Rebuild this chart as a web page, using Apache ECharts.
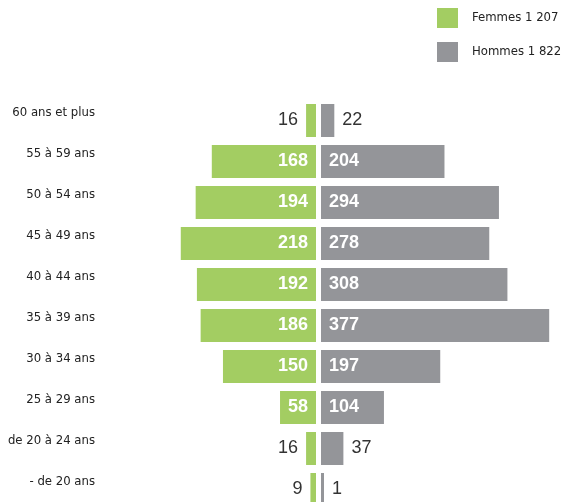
<!DOCTYPE html>
<html><head><meta charset="utf-8">
<script src="https://cdn.jsdelivr.net/npm/echarts@6/dist/echarts.min.js"></script>
<style>html,body{margin:0;padding:0;background:#fff}#c{width:563px;height:502px}</style>
</head><body><div id="c"></div>
<script>
const categories = ['60 ans et plus','55 à 59 ans','50 à 54 ans','45 à 49 ans','40 à 44 ans','35 à 39 ans','30 à 34 ans','25 à 29 ans','de 20 à 24 ans','- de 20 ans'];
const femmes = [16,168,194,218,192,186,150,58,16,9];
const hommes = [22,204,294,278,308,377,197,104,37,1];
const seriesNames = ['Femmes','Hommes'];

const GREEN = '#a3cd62', GRAY = '#949599';
const NARROW = "'DejaVu Sans Condensed','Liberation Sans Narrow',sans-serif";
const SANS = "'Liberation Sans',Arial,Helvetica,sans-serif";
const fmt = n => String(n).replace(/\B(?=(\d{3})+(?!\d))/g, ' ');
const sum = a => a.reduce((s, v) => s + v, 0);
const totals = { Femmes: sum(femmes), Hommes: sum(hommes) };

function items(arr, inside, outside) {
  return arr.map(v => {
    const big = v >= 50;
    return {
      value: v,
      label: big
        ? { show: true, position: inside, color: '#fff', fontWeight: 'bold', fontSize: 18, fontFamily: SANS, distance: 8 }
        : { show: true, position: outside, color: '#333', fontWeight: 'normal', fontSize: 18, fontFamily: SANS, distance: 8 }
    };
  });
}

const chart = echarts.init(document.getElementById('c'), null, { renderer: 'canvas' });
chart.setOption({
  animation: false,
  backgroundColor: '#fff',
  legend: {
    orient: 'vertical', left: 437, top: 8, padding: 0, itemWidth: 21, itemHeight: 20, itemGap: 14,
    icon: 'rect', data: seriesNames,
    formatter: n => n + ' ' + fmt(totals[n]),
    textStyle: { fontSize: 13, color: '#222', fontFamily: NARROW, padding: [0, 0, 0, 9] }
  },
  grid: [
    { left: 120, right: 247, top: 100, bottom: -8, outerBoundsMode: 'none' },
    { left: 321, right: 12, top: 100, bottom: -8, outerBoundsMode: 'none' }
  ],
  xAxis: [
    { type: 'value', gridIndex: 0, inverse: true, min: 0, max: 316, show: false },
    { type: 'value', gridIndex: 1, min: 0, max: 380, show: false }
  ],
  yAxis: [
    { type: 'category', gridIndex: 0, data: categories, inverse: true, position: 'left',
      axisLine: { show: false, onZero: false }, axisTick: { show: false }, splitLine: { show: false },
      axisLabel: { margin: 25, fontSize: 13, color: '#222', fontFamily: NARROW, verticalAlign: 'bottom', padding: [0, 0, 1, 0] } },
    { type: 'category', gridIndex: 1, data: categories, inverse: true, show: false }
  ],
  series: [
    { name: seriesNames[0], type: 'bar', xAxisIndex: 0, yAxisIndex: 0, barWidth: 33,
      itemStyle: { color: GREEN }, data: items(femmes, 'insideRight', 'left') },
    { name: seriesNames[1], type: 'bar', xAxisIndex: 1, yAxisIndex: 1, barWidth: 33, barMinHeight: 3,
      itemStyle: { color: GRAY }, data: items(hommes, 'insideLeft', 'right') }
  ]
});
</script>
</body></html>
